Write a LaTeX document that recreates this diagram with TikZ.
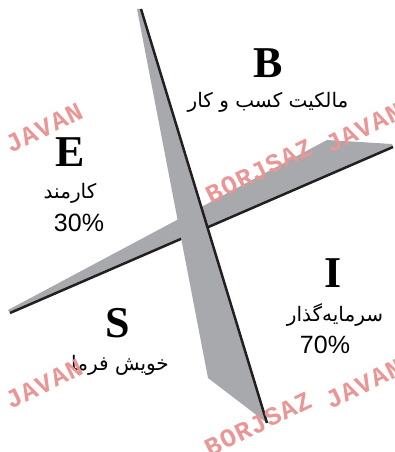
\documentclass[tikz,border=0pt]{standalone}
\usepackage{fontspec}
\setmainfont{Liberation Serif}
\newfontfamily\persianfont[Script=Arabic]{DejaVu Sans}
\newfontfamily\digitfont{Liberation Sans}
\newfontfamily\markfont[LetterSpace=4]{Liberation Mono}
\TeXXeTstate=1
\definecolor{bladegray}{RGB}{167,169,172}
\definecolor{bladeedge}{RGB}{35,31,32}
\definecolor{markpink}{RGB}{234,150,150}
\tikzset{
  letter/.style={font=\fontsize{44}{44}\selectfont\bfseries, inner sep=0pt},
  role/.style={font=\persianfont\fontsize{20}{20}\selectfont, inner sep=0pt},
  share/.style={font=\digitfont\fontsize{25}{25}\selectfont, inner sep=0pt},
  stamp/.style={text=markpink, rotate=26, inner sep=0pt,
    font=\markfont\bfseries\fontsize{26}{26}\selectfont},
}

\begin{document}
\begin{tikzpicture}[x=1pt,y=-1pt]
        \useasboundingbox (0,0) rectangle (394,452);
        % horizontal blade (lies under the other one)
        \fill[bladegray] (8,310) -- (327,140) -- (392,144) -- (393,147) -- (10,313) -- cycle;
        \draw[bladeedge, line width=2.5pt] (10,313) -- (393,147);
        % vertical blade
        \fill[bladegray] (137,9) -- (208,378) -- (263,420) -- (267,423) -- (141,9) -- cycle;
        \draw[bladeedge, line width=2.5pt] (141,9) -- (267,423);
        % the four quarters
        \node[letter] (b) at (268,63) {B};
        \node[role] (bRole) at (268,102) {\beginR مالکیت کسب و کار\endR};
        \node[letter] (e) at (70,152) {E};
        \node[role] (eRole) at (70,193) {\beginR کارمند\endR};
        \node[share] (eShare) at (79,223) {30\%};
        \node[letter] (i) at (333,273) {I};
        \node[role] (iRole) at (335,315) {\beginR سرمایه‌گذار\endR};
        \node[share] (iShare) at (325,345) {70\%};
        \node[letter] (s) at (118,323) {S};
        \node[role] (sRole) at (120,365) {\beginR خویش فرما\endR};
        % watermarks
        \node[stamp] (markA) at (44,128) {JAVAN};
        \node[stamp] (markB) at (364,128) {JAVAN};
        \node[stamp] (markC) at (259,171) {BORJSAZ};
        \node[stamp] (markD) at (44,384) {JAVAN};
        \node[stamp] (markE) at (364,384) {JAVAN};
        \node[stamp] (markF) at (258,424) {BORJSAZ};
\end{tikzpicture}
\end{document}
